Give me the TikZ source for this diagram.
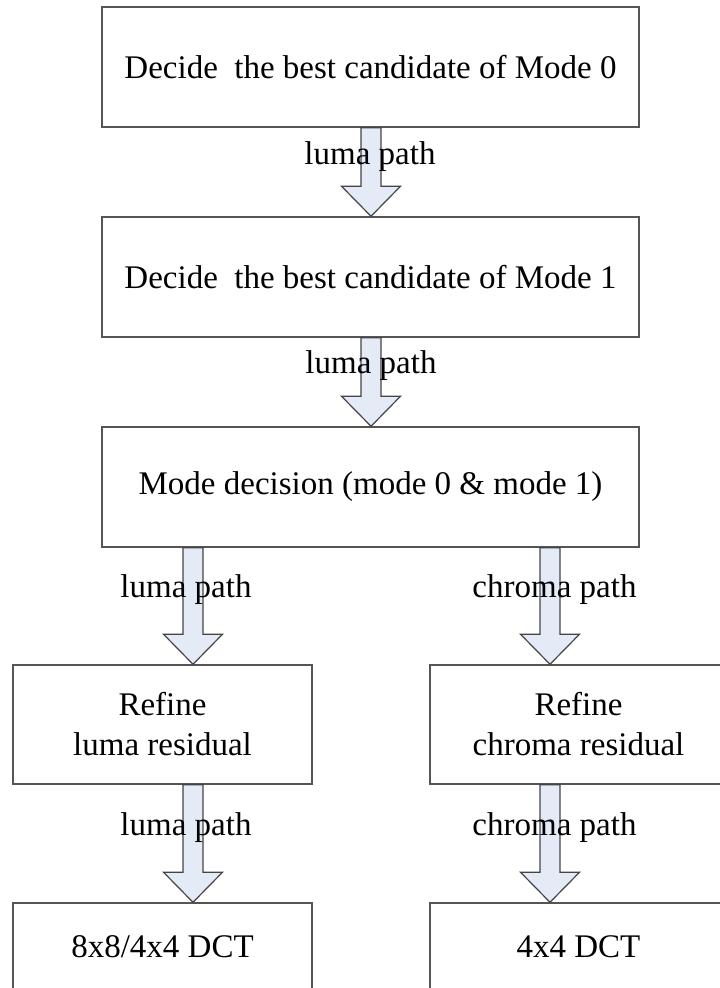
\documentclass[tikz,border=0pt]{standalone}
\usepackage{fontspec}
\setmainfont{Liberation Serif}
\usetikzlibrary{positioning}
\usetikzlibrary{calc}
\definecolor{boxgray}{RGB}{85,85,85}
\definecolor{arrowfill}{RGB}{228,235,247}
\newcommand{\fatarrow}[2]{%
	\draw[fat] ($(#1)+(-10,0)$) -- ($(#2)+(-10,-30)$) -- ($(#2)+(-29.5,-30)$) -- (#2) -- ($(#2)+(29.5,-30)$) -- ($(#2)+(10,-30)$) -- ($(#1)+(10,0)$) -- cycle;}

\begin{document}
\begin{tikzpicture}[x=1pt, y=-1pt,
				internal/.style={draw=boxgray, rectangle, line width=1.5pt, inner sep=4pt, align=center, font=\fontsize{33}{40}\selectfont},
				fat/.style={draw=boxgray!80!black, line width=1.2pt, fill=arrowfill, line join=miter},
				pathtext/.style={inner sep=0pt, font=\fontsize{33}{40}\selectfont}]
				\path[use as bounding box, clip] (0,0) rectangle (720,988);
				\node[internal, minimum width=537pt, minimum height=120pt](node1) at (370.5, 67) {Decide\ \ the best candidate of Mode 0};
				\node[internal, minimum width=537pt, minimum height=120pt, below=88.5pt of node1](node2) {Decide\ \ the best candidate of Mode 1};
				\node[internal, minimum width=537pt, minimum height=120pt, below=88.5pt of node2](node3) {Mode decision (mode 0 \& mode 1)};
				
				\node[internal, minimum width=299pt, minimum height=119pt](node4) at (162.5, 724.5) {Refine\\luma residual};
				\node[internal, minimum width=297pt, minimum height=119pt, right=116.5pt of node4](node5) {Refine\\chroma residual};
				\node[internal, minimum width=299pt, minimum height=88pt, below=117.5pt of node4](node6) {8x8/4x4 DCT};
				\node[internal, minimum width=297pt, minimum height=88pt, below=117.5pt of node5](node7) {4x4 DCT};
				
				% block arrows between the boxes
				\coordinate (a1s) at (node1.south -| 371,0);
				\coordinate (a1e) at (node2.north -| 371,0);
				\coordinate (a2s) at (node2.south -| 371,0);
				\coordinate (a2e) at (node3.north -| 371,0);
				\coordinate (a3s) at (node3.south -| 193,0);
				\coordinate (a3e) at (node4.north -| 193,0);
				\coordinate (a4s) at (node4.south -| 193,0);
				\coordinate (a4e) at (node6.north -| 193,0);
				\coordinate (a5s) at (node3.south -| 550,0);
				\coordinate (a5e) at (node5.north -| 550,0);
				\coordinate (a6s) at (node5.south -| 550,0);
				\coordinate (a6e) at (node7.north -| 550,0);
				\fatarrow{a1s}{a1e}
				\fatarrow{a2s}{a2e}
				\fatarrow{a3s}{a3e}
				\fatarrow{a4s}{a4e}
				\fatarrow{a5s}{a5e}
				\fatarrow{a6s}{a6e}
				
				\node[pathtext](lab1) at (370, 157) {luma path};
				\node[pathtext](lab2) at (371, 366) {luma path};
				\node[pathtext](lab3) at (186, 590) {luma path};
				\node[pathtext](lab4) at (186, 828) {luma path};
				\node[pathtext](lab5) at (554.5, 590) {chroma path};
				\node[pathtext](lab6) at (554.5, 828) {chroma path};
				
			\end{tikzpicture}
\end{document}
